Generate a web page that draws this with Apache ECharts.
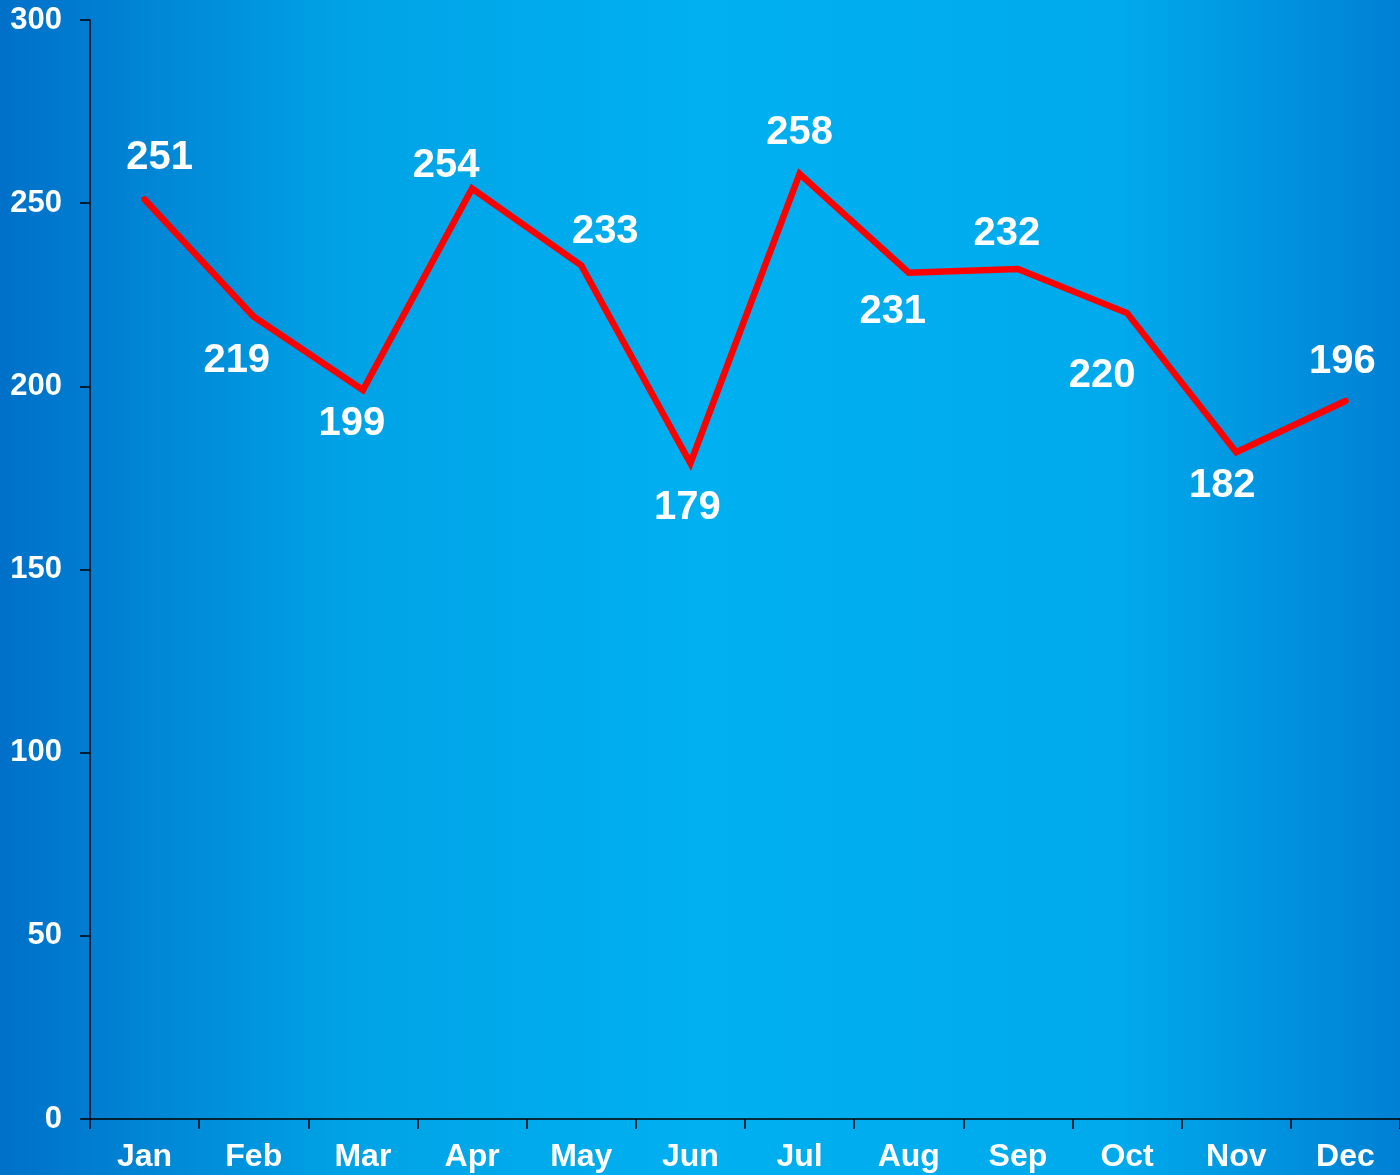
<!DOCTYPE html>
<html>
<head>
<meta charset="utf-8">
<script src="https://cdn.jsdelivr.net/npm/echarts@6/dist/echarts.min.js"></script>
<style>html,body{margin:0;padding:0;}#c{width:1400px;height:1175px;}</style>
</head>
<body>
<div id="c"></div>
<script>
const months = ['Jan','Feb','Mar','Apr','May','Jun','Jul','Aug','Sep','Oct','Nov','Dec'];
const values = [251,219,199,254,233,179,258,231,232,220,182,196];
const yTicks = [0,50,100,150,200,250,300];
// label offsets (layout only)
const labelOffsets = [[15,-42],[-17,44],[-11,34],[-26,-23],[24,-33],[-3,45],[0,-41],[-16,39],[-11,-35],[-25,63],[-14,34],[-3,-39]];

const chart = echarts.init(document.getElementById('c'));
chart.setOption({
  backgroundColor: {
    type: 'linear', x: 0, y: 0, x2: 1, y2: 0,
    colorStops: [
      {offset: 0, color: '#0070c9'},
      {offset: 0.25, color: '#00a3e6'},
      {offset: 0.5, color: '#00b0f0'},
      {offset: 0.8, color: '#00aaec'},
      {offset: 1, color: '#0080d4'}
    ]
  },
  animation: false,
  grid: {left: 90, right: 0, top: 20, bottom: 56},
  xAxis: {
    type: 'category',
    data: months,
    boundaryGap: true,
    axisLine: {lineStyle: {color: '#000', width: 1.5}},
    axisTick: {show: true, length: 10, lineStyle: {color: '#000', width: 1.5}},
    axisLabel: {color: '#fff', fontSize: 32, fontWeight: 'bold', fontFamily: 'Liberation Sans, Arial, sans-serif', margin: 22}
  },
  yAxis: {
    type: 'value',
    min: yTicks[0], max: yTicks[yTicks.length-1], interval: 50,
    splitLine: {show: false},
    axisLine: {show: true, lineStyle: {color: '#000', width: 1.5}},
    axisTick: {show: true, length: 10, lineStyle: {color: '#000', width: 1.5}},
    axisLabel: {color: '#fff', fontSize: 31, fontWeight: 'bold', fontFamily: 'Liberation Sans, Arial, sans-serif', margin: 28}
  },
  series: [{
    type: 'line',
    data: values.map((v, i) => ({
      value: v,
      label: {offset: labelOffsets[i]}
    })),
    symbol: 'circle',
    symbolSize: 1,
    itemStyle: {color: '#ff0000'},
    lineStyle: {color: '#ff0000', width: 6.5, cap: 'round', join: 'miter'},
    label: {
      show: true,
      position: 'inside',
      align: 'center',
      verticalAlign: 'middle',
      color: '#fff',
      fontSize: 40,
      fontWeight: 'bold',
      fontFamily: 'Liberation Sans, Arial, sans-serif'
    }
  }]
});
</script>
</body>
</html>
